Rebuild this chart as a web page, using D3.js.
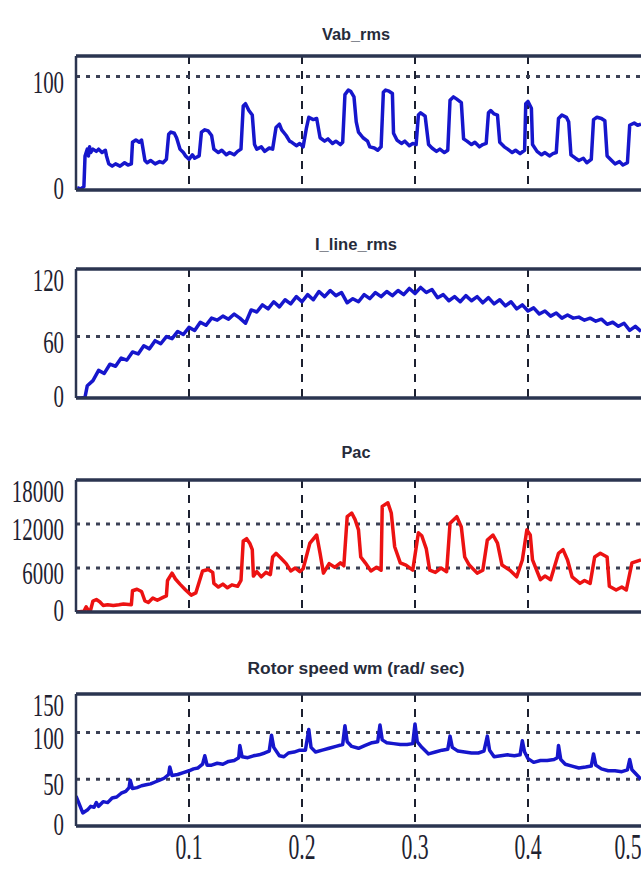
<!DOCTYPE html>
<html>
<head>
<meta charset="utf-8">
<script src="https://cdn.jsdelivr.net/npm/d3@7"></script>
<style>
body { margin: 0; background: #fff; }
.title { font-family: "Liberation Sans", Arial, sans-serif; font-weight: bold; fill: #262b3a; }
.tick-label { font-family: "Liberation Serif", "Times New Roman", serif; fill: #1e2230; }
</style>
</head>
<body>
<div id="chart"></div>
<script>
// ---- data: [time (s), value] ----
var vabRms = [[0.001,2],[0.004,1],[0.007,3],[0.008,30],[0.010,36],[0.011,30],[0.012,38],[0.013,33],[0.015,36],[0.018,34],[0.020,36],[0.023,33],[0.026,35],[0.027,30],[0.029,23],[0.032,21],[0.035,23],[0.039,21],[0.043,24],[0.046,22],[0.049,23],[0.050,42],[0.053,44],[0.056,42],[0.058,44],[0.061,26],[0.063,24],[0.066,26],[0.070,23],[0.074,25],[0.077,24],[0.080,27],[0.082,49],[0.084,51],[0.087,50],[0.089,46],[0.092,36],[0.095,33],[0.097,30],[0.100,27],[0.103,31],[0.105,28],[0.109,30],[0.111,51],[0.114,53],[0.117,52],[0.120,48],[0.122,36],[0.126,33],[0.129,35],[0.133,31],[0.136,33],[0.140,31],[0.143,34],[0.146,36],[0.148,74],[0.150,76],[0.153,70],[0.156,66],[0.158,40],[0.160,36],[0.164,38],[0.167,34],[0.171,37],[0.174,36],[0.177,55],[0.180,58],[0.182,53],[0.186,48],[0.189,43],[0.191,42],[0.195,39],[0.198,41],[0.201,38],[0.204,55],[0.206,64],[0.210,62],[0.213,63],[0.216,46],[0.220,43],[0.223,45],[0.227,41],[0.230,43],[0.234,40],[0.236,42],[0.238,84],[0.241,88],[0.243,87],[0.246,82],[0.248,60],[0.250,51],[0.254,46],[0.258,43],[0.260,38],[0.264,37],[0.267,35],[0.270,38],[0.272,86],[0.274,88],[0.277,87],[0.280,85],[0.281,50],[0.284,44],[0.288,41],[0.291,43],[0.295,39],[0.298,41],[0.301,40],[0.303,66],[0.305,68],[0.309,65],[0.312,40],[0.315,37],[0.319,34],[0.322,36],[0.326,33],[0.329,35],[0.331,79],[0.334,82],[0.337,80],[0.341,77],[0.343,45],[0.346,43],[0.350,40],[0.353,42],[0.357,38],[0.360,40],[0.363,41],[0.365,68],[0.367,70],[0.370,67],[0.373,66],[0.375,42],[0.379,38],[0.382,36],[0.386,33],[0.389,35],[0.393,32],[0.397,35],[0.398,76],[0.400,78],[0.403,72],[0.404,40],[0.408,34],[0.412,31],[0.415,33],[0.419,30],[0.422,32],[0.425,33],[0.427,63],[0.430,66],[0.434,64],[0.436,60],[0.438,31],[0.442,28],[0.445,26],[0.449,28],[0.452,24],[0.456,27],[0.458,62],[0.461,64],[0.465,63],[0.468,61],[0.470,30],[0.474,26],[0.477,23],[0.481,25],[0.484,22],[0.488,24],[0.490,57],[0.494,59],[0.497,57],[0.500,58]];

var iLineRms = [[0.000,0],[0.005,0],[0.008,1],[0.010,12],[0.015,17],[0.020,27],[0.025,24],[0.030,33],[0.035,31],[0.040,39],[0.045,37],[0.050,45],[0.055,43],[0.060,51],[0.065,48],[0.070,56],[0.075,53],[0.080,60],[0.085,58],[0.090,65],[0.095,62],[0.100,69],[0.105,66],[0.110,74],[0.115,71],[0.120,78],[0.125,76],[0.130,80],[0.135,77],[0.140,82],[0.145,78],[0.150,73],[0.155,86],[0.160,84],[0.165,91],[0.170,87],[0.175,94],[0.180,89],[0.185,96],[0.190,92],[0.195,99],[0.200,94],[0.205,101],[0.210,96],[0.215,104],[0.220,99],[0.225,105],[0.230,100],[0.235,103],[0.240,93],[0.245,97],[0.250,94],[0.255,101],[0.260,97],[0.265,103],[0.270,99],[0.275,104],[0.280,100],[0.285,105],[0.290,101],[0.295,107],[0.300,102],[0.305,108],[0.310,103],[0.315,106],[0.320,98],[0.325,101],[0.330,95],[0.335,99],[0.340,94],[0.345,100],[0.350,95],[0.355,99],[0.360,93],[0.365,98],[0.370,92],[0.375,96],[0.380,90],[0.385,94],[0.390,87],[0.395,91],[0.400,85],[0.405,88],[0.410,82],[0.415,85],[0.420,80],[0.425,83],[0.430,78],[0.435,81],[0.440,78],[0.445,79],[0.450,76],[0.455,78],[0.460,75],[0.465,77],[0.470,72],[0.475,74],[0.480,70],[0.485,73],[0.490,66],[0.495,70],[0.500,65]];

var pac = [[0.001,0],[0.007,100],[0.009,700],[0.011,200],[0.013,300],[0.015,1500],[0.018,1700],[0.021,1400],[0.024,900],[0.028,1000],[0.033,900],[0.038,1000],[0.042,1100],[0.049,1000],[0.050,2900],[0.054,3100],[0.058,2800],[0.061,1500],[0.064,1300],[0.068,1900],[0.072,1600],[0.077,2000],[0.080,2200],[0.081,4300],[0.085,5300],[0.088,4500],[0.092,3800],[0.097,3000],[0.102,2300],[0.106,2600],[0.112,5600],[0.117,5800],[0.121,5400],[0.122,3900],[0.126,3400],[0.130,3800],[0.134,3300],[0.138,3700],[0.143,3500],[0.146,4300],[0.148,9700],[0.151,10000],[0.154,9300],[0.156,8500],[0.157,4900],[0.160,5500],[0.164,4800],[0.168,5400],[0.172,5100],[0.174,7500],[0.177,8000],[0.181,7400],[0.186,6600],[0.190,5600],[0.194,6000],[0.198,5500],[0.201,5900],[0.207,9400],[0.213,10500],[0.216,8000],[0.219,5300],[0.224,6600],[0.229,6100],[0.234,6700],[0.237,6300],[0.240,13000],[0.244,13500],[0.247,12600],[0.250,11200],[0.252,7500],[0.256,6700],[0.261,5600],[0.266,6100],[0.270,5700],[0.271,14400],[0.276,14900],[0.279,13500],[0.282,8900],[0.287,6700],[0.292,6400],[0.298,5700],[0.303,10800],[0.306,10400],[0.310,8600],[0.313,5700],[0.318,5400],[0.323,6000],[0.328,5500],[0.331,12100],[0.337,13000],[0.341,11600],[0.344,7500],[0.348,6400],[0.355,5300],[0.360,5700],[0.364,9800],[0.369,10500],[0.373,9400],[0.377,6400],[0.384,5700],[0.390,4800],[0.395,7100],[0.399,11200],[0.402,10500],[0.404,7100],[0.411,4400],[0.415,4900],[0.420,4400],[0.427,8000],[0.431,8500],[0.435,7100],[0.439,4800],[0.446,3900],[0.450,4300],[0.455,3900],[0.459,7500],[0.464,8000],[0.470,7500],[0.472,3500],[0.478,3000],[0.483,3400],[0.487,3000],[0.492,6700],[0.500,7100]];

var rotorSpeed = [[0.000,32],[0.002,26],[0.006,14],[0.010,17],[0.013,21],[0.016,20],[0.018,25],[0.020,21],[0.024,26],[0.028,25],[0.032,30],[0.036,31],[0.040,35],[0.044,37],[0.047,41],[0.048,49],[0.050,40],[0.054,41],[0.058,43],[0.062,44],[0.066,45],[0.070,47],[0.074,49],[0.078,51],[0.082,55],[0.083,63],[0.085,54],[0.090,55],[0.095,57],[0.100,59],[0.104,61],[0.108,62],[0.112,66],[0.114,75],[0.116,65],[0.120,65],[0.125,67],[0.130,66],[0.135,69],[0.140,70],[0.144,73],[0.145,86],[0.147,74],[0.152,73],[0.157,75],[0.162,76],[0.167,78],[0.171,80],[0.173,97],[0.175,84],[0.180,75],[0.184,74],[0.188,78],[0.193,79],[0.198,81],[0.203,81],[0.206,103],[0.208,84],[0.212,79],[0.218,81],[0.224,83],[0.230,85],[0.236,87],[0.238,107],[0.240,90],[0.244,85],[0.250,83],[0.256,86],[0.262,89],[0.267,90],[0.269,108],[0.271,92],[0.275,89],[0.281,88],[0.287,87],[0.293,87],[0.298,88],[0.300,109],[0.302,90],[0.306,84],[0.312,77],[0.318,79],[0.324,81],[0.329,82],[0.331,96],[0.333,84],[0.338,80],[0.344,79],[0.350,78],[0.356,78],[0.361,80],[0.364,96],[0.366,81],[0.370,74],[0.376,75],[0.382,76],[0.388,75],[0.393,76],[0.395,91],[0.397,79],[0.400,72],[0.405,68],[0.411,70],[0.417,70],[0.423,71],[0.426,73],[0.427,86],[0.429,71],[0.433,66],[0.439,64],[0.445,62],[0.451,63],[0.456,64],[0.458,77],[0.460,65],[0.465,61],[0.471,59],[0.477,59],[0.483,58],[0.488,60],[0.490,71],[0.492,60],[0.496,55],[0.500,50]];

// tick labels and grid levels
var xTicks = [0.1, 0.2, 0.3, 0.4, 0.5];
var xGrid = [0.1, 0.2, 0.3, 0.4];
var vabTicks = [0, 100], vabGrid = [100];
var iLineTicks = [0, 60, 120], iLineGrid = [60];
var pacTicks = [0, 6000, 12000, 18000], pacGrid = [6000, 12000];
var rotorTicks = [0, 50, 100, 150], rotorGrid = [50, 100];

// ---- layout ----
var svgWidth = 641;
var svgHeight = 869;

var svg = d3.select("#chart").append("svg")
    .attr("width", svgWidth)
    .attr("height", svgHeight);

var xScale = d3.scaleLinear().domain([0, 0.5]).range([76, 641]);

var panels = [
    {title: "Vab_rms", titleY: 40, titleLen: 68, data: vabRms, color: "#1616cc", top: 56, bottom: 190, yMax: 118, ticks: vabTicks, grid: vabGrid},
    {title: "I_line_rms", titleY: 250, titleLen: 82, data: iLineRms, color: "#1616cc", top: 269, bottom: 398, yMax: 126, ticks: iLineTicks, grid: iLineGrid},
    {title: "Pac", titleY: 458, titleLen: 29, data: pac, color: "#ec1212", top: 480, bottom: 612, yMax: 18000, ticks: pacTicks, grid: pacGrid},
    {title: "Rotor speed wm (rad/ sec)", titleY: 674, titleLen: 217, data: rotorSpeed, color: "#1616cc", top: 694, bottom: 826, yMax: 141, ticks: rotorTicks, grid: rotorGrid}
];

var x0 = xScale(0);
var x1 = xScale(0.5);

panels.forEach(function(p, i) {
    var yScale = d3.scaleLinear().domain([0, p.yMax]).range([p.bottom, p.top]);
    var g = svg.append("g");

    // title
    g.append("text")
        .attr("class", "title")
        .attr("x", 356)
        .attr("y", p.titleY)
        .attr("text-anchor", "middle")
        .attr("font-size", 16)
        .attr("textLength", p.titleLen)
        .attr("lengthAdjust", "spacingAndGlyphs")
        .text(p.title);

    // vertical dashed grid
    g.selectAll(".vgrid")
        .data(xGrid)
        .enter()
        .append("line")
        .attr("x1", d => xScale(d))
        .attr("x2", d => xScale(d))
        .attr("y1", p.top)
        .attr("y2", p.bottom)
        .attr("stroke", "#1c2030")
        .attr("stroke-width", 2)
        .attr("stroke-dasharray", "8,7");

    // horizontal dotted grid
    g.selectAll(".hgrid")
        .data(p.grid)
        .enter()
        .append("line")
        .attr("x1", x0)
        .attr("x2", x1)
        .attr("y1", d => yScale(d))
        .attr("y2", d => yScale(d))
        .attr("stroke", "#3b4054")
        .attr("stroke-width", 3)
        .attr("stroke-dasharray", "4,6");

    // trace
    var clipId = "clip" + i;
    svg.append("clipPath").attr("id", clipId)
        .append("rect")
        .attr("x", x0).attr("y", p.top - 1)
        .attr("width", x1 - x0 + 2).attr("height", p.bottom - p.top + 2);

    var line = d3.line()
        .x(d => xScale(d[0]))
        .y(d => yScale(d[1]));

    g.append("path")
        .datum(p.data)
        .attr("clip-path", "url(#" + clipId + ")")
        .attr("d", line)
        .attr("fill", "none")
        .attr("stroke", p.color)
        .attr("stroke-width", 3.5)
        .attr("stroke-linejoin", "round");

    // frame
    g.append("line").attr("x1", x0).attr("x2", svgWidth + 2).attr("y1", p.top).attr("y2", p.top)
        .attr("stroke", "#2b3550").attr("stroke-width", 3.5);
    g.append("line").attr("x1", x0).attr("x2", svgWidth + 2).attr("y1", p.bottom).attr("y2", p.bottom)
        .attr("stroke", "#2b3550").attr("stroke-width", 3.5);
    g.append("line").attr("x1", x0).attr("x2", x0).attr("y1", p.top).attr("y2", p.bottom)
        .attr("stroke", "#2b3550").attr("stroke-width", 2.5);

    // y tick labels (tall, narrow serif)
    g.selectAll(".ylab")
        .data(p.ticks)
        .enter()
        .append("text")
        .attr("class", "tick-label")
        .attr("font-size", 29)
        .attr("text-anchor", "end")
        .attr("dy", "0.35em")
        .attr("transform", function(d) {
            var ly = Math.min(Math.max(yScale(d) + 5, p.top + 11), p.bottom - 2);
            return "translate(64," + ly + ") scale(0.72,1.1)";
        })
        .text(d => d);

    // x tick labels only under the last panel
    if (i === panels.length - 1) {
        g.selectAll(".xlab")
            .data(xTicks)
            .enter()
            .append("text")
            .attr("class", "tick-label")
            .attr("font-size", 34)
            .attr("text-anchor", "middle")
            .attr("transform", function(d) {
                var lx = Math.min(xScale(d), svgWidth - 13);
                return "translate(" + lx + ",859) scale(0.64,1.08)";
            })
            .text(d => d);
    }
});
</script>
</body>
</html>
